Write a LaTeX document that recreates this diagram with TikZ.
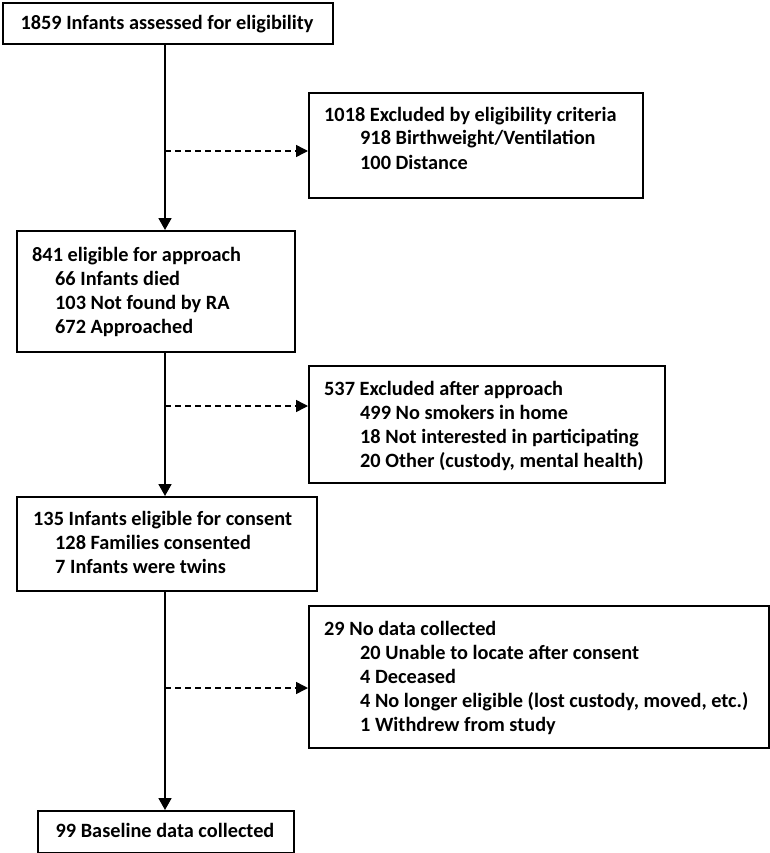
\documentclass[tikz,border=0pt]{standalone}
\usepackage{fontspec}
\setmainfont{Carlito}
\usetikzlibrary{arrows.meta}
\tikzset{
  boxnode/.style={draw=black, line width=1.8pt, rectangle, inner sep=0pt, anchor=north west},
  txt/.style={anchor=base west, inner sep=0pt, font=\fontsize{20.3}{24}\selectfont\bfseries},
  ctxt/.style={anchor=base, inner sep=0pt, font=\fontsize{20.3}{24}\selectfont\bfseries},
  solidarrow/.style={line width=1.8pt, -{Triangle[length=12pt,width=13pt]}},
  dasharrow/.style={line width=1.5pt, dash pattern=on 6pt off 4pt, -{Triangle[length=12pt,width=12pt]}},
}
\begin{document}
\begin{tikzpicture}[x=1pt,y=-1pt]
\useasboundingbox (0,0) rectangle (770,853);
% boxes
\node[boxnode, minimum width=330pt, minimum height=41pt] (b1) at (2,2) {};
\node[boxnode, minimum width=334pt, minimum height=105pt] (b2) at (308,92) {};
\node[boxnode, minimum width=278pt, minimum height=121pt] (b3) at (16,230) {};
\node[boxnode, minimum width=356pt, minimum height=117pt] (b4) at (308,365) {};
\node[boxnode, minimum width=300pt, minimum height=94pt] (b5) at (16,496) {};
\node[boxnode, minimum width=460pt, minimum height=142pt] (b6) at (308,605) {};
\node[boxnode, minimum width=256pt, minimum height=42pt] (b7) at (37,810) {};
% texts
\node[ctxt] (t1) at (167,29.5) {1859 Infants assessed for eligibility};
\node[txt] (t2a) at (324,121.5) {1018 Excluded by eligibility criteria};
\node[txt] (t2b) at (360,145) {918 Birthweight/Ventilation};
\node[txt] (t2c) at (360,169.5) {100 Distance};
\node[txt] (t3a) at (32,261.5) {841 eligible for approach};
\node[txt] (t3b) at (55,285.5) {66 Infants died};
\node[txt] (t3c) at (55,309.5) {103 Not found by RA};
\node[txt] (t3d) at (55,333.5) {672 Approached};
\node[txt] (t4a) at (324,395.5) {537 Excluded after approach};
\node[txt] (t4b) at (360,419.5) {499 No smokers in home};
\node[txt] (t4c) at (360,443.5) {18 Not interested in participating};
\node[txt] (t4d) at (360,467.5) {20 Other (custody, mental health)};
\node[txt] (t5a) at (33,525.5) {135 Infants eligible for consent};
\node[txt] (t5b) at (55,549.5) {128 Families consented};
\node[txt] (t5c) at (55,573.5) {7 Infants were twins};
\node[txt] (t6a) at (324,635.5) {29 No data collected};
\node[txt] (t6b) at (360,659.5) {20 Unable to locate after consent};
\node[txt] (t6c) at (360,683.5) {4 Deceased};
\node[txt] (t6d) at (360,707.5) {4 No longer eligible (lost custody, moved, etc.)};
\node[txt] (t6e) at (360,731.5) {1 Withdrew from study};
\node[ctxt] (t7) at (165,837.5) {99 Baseline data collected};
% connectors
\coordinate (s1) at (165,151);
\coordinate (s2) at (165,406);
\coordinate (s3) at (165,688);
\draw[solidarrow] (b1.south -| s1) -- (b3.north -| s1);
\draw[solidarrow] (b3.south -| s1) -- (b5.north -| s1);
\draw[solidarrow] (b5.south -| s1) -- (b7.north -| s1);
\draw[dasharrow] (s1) -- (s1 -| b2.west);
\draw[dasharrow] (s2) -- (s2 -| b4.west);
\draw[dasharrow] (s3) -- (s3 -| b6.west);
\end{tikzpicture}
\end{document}
